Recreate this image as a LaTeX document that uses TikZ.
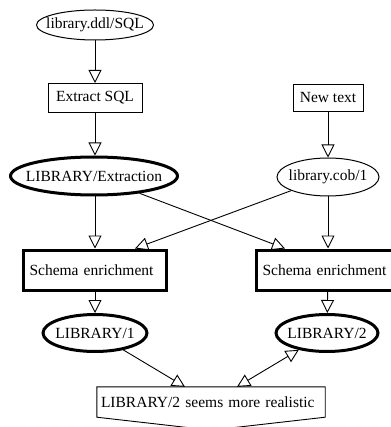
\documentclass[tikz,border=0pt]{standalone}
\usepackage{fontspec}
\setmainfont{Liberation Serif}
\usetikzlibrary{arrows.meta, shapes.geometric}
\tikzstyle{schemaFlow} = [x = 1pt, y = -1pt, every node/.style={font=\fontsize{15.5}{18}\selectfont}]
\tikzstyle{fileNode} = [draw, ellipse, line width = 1pt, inner xsep = -12pt, inner ysep = 0pt]
\tikzstyle{versionNode} = [fileNode, line width = 3pt]
\tikzstyle{actionNode} = [draw, rectangle, line width = 1pt, inner xsep = 0pt, inner ysep = 0pt]
\tikzstyle{enrichNode} = [actionNode, line width = 3pt, text width = 131pt, inner xsep = 6pt, align = left]
\tikzstyle{flowLine} = [line width = .9pt, -{Triangle[open, length = 13pt, width = 13pt]}]
\tikzstyle{bothLine} = [line width = .9pt, {Triangle[open, length = 13pt, width = 13pt]}-{Triangle[open, length = 13pt, width = 13pt]}]

\begin{document}
\begin{tikzpicture}[schemaFlow]
        \useasboundingbox (0,0) rectangle (390,427);

        \node[fileNode, minimum width = 117pt, minimum height = 30pt] (sqlFile) at (95,25) {library.ddl/SQL};
        \node[actionNode, minimum width = 94pt, minimum height = 29pt] (extract) at (95,98) {Extract SQL};
        \node[versionNode, minimum width = 167pt, minimum height = 38pt] (extraction) at (94,176) {LIBRARY/Extraction};
        \node[actionNode, minimum width = 70pt, minimum height = 27pt] (newText) at (328,98) {New text};
        \node[fileNode, minimum width = 102pt, minimum height = 38pt] (cobFile) at (328,177) {library.cob/1};
        \node[enrichNode, minimum height = 40pt] (enrichLeft) at (95,270) {Schema enrichment};
        \node[enrichNode, minimum height = 40pt] (enrichRight) at (328,270) {Schema enrichment};
        \node[versionNode, minimum width = 104pt, minimum height = 37pt] (libOne) at (95,333) {LIBRARY/1};
        \node[versionNode, minimum width = 102pt, minimum height = 37pt] (libTwo) at (327,333) {LIBRARY/2};
        \node[text width = 220pt, inner xsep = 4pt, inner ysep = 0pt, align = left, minimum height = 30pt] (verdict) at (211,402) {LIBRARY/2 seems more realistic};

        % verdict box with pointed bottom
        \draw[line width = .9pt] (verdict.south west) -- (verdict.north west) -- (verdict.north east)
          -- (verdict.south east) -- ([yshift = -13pt]verdict.south) -- cycle;

        \draw[flowLine] (sqlFile) -- (extract);
        \draw[flowLine] (extract) -- (extract |- extraction.north);
        \draw[flowLine] (newText) -- (cobFile);
        \draw[flowLine] (extraction.south -| enrichLeft.north) -- (enrichLeft);
        \draw[flowLine] (extraction) -- ([xshift = -43pt]enrichRight.north);
        \draw[flowLine] (cobFile) -- ([xshift = 40pt]enrichLeft.north);
        \draw[flowLine] (cobFile) -- (enrichRight);
        \draw[flowLine] (enrichLeft) -- (libOne);
        \draw[flowLine] (enrichRight) -- (libTwo);
        \draw[flowLine] (libOne) -- ([xshift = -26pt]verdict.north);
        \draw[bothLine] (libTwo) -- ([xshift = 26pt]verdict.north);
      \end{tikzpicture}
\end{document}
